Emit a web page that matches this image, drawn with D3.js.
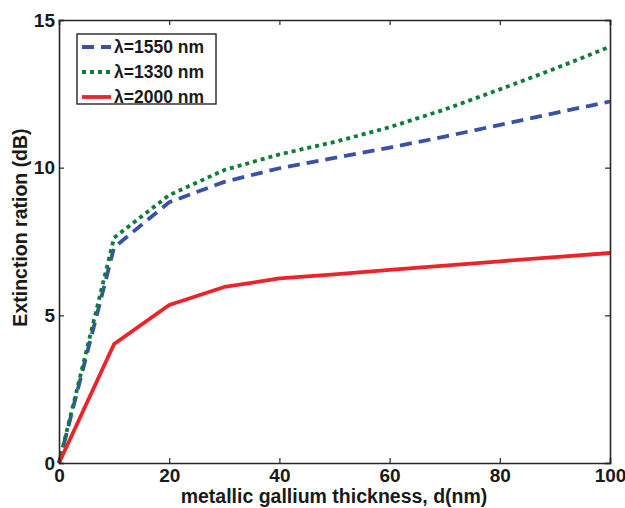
<!DOCTYPE html>
<html>
<head>
<meta charset="utf-8">
<script src="https://cdn.jsdelivr.net/npm/d3@7/dist/d3.min.js"></script>
<style>
  html, body { margin: 0; padding: 0; background: #fff; }
  svg { display: block; font-family: "Liberation Sans", Arial, sans-serif; }
</style>
</head>
<body>
<svg id="chart" width="625" height="508"></svg>
<script>
// ---- data ----
const thickness = [0, 10, 20, 30, 40, 50, 60, 70, 80, 90, 100];
const er1550 = [0, 7.30, 8.83, 9.52, 9.98, 10.33, 10.68, 11.05, 11.45, 11.85, 12.24];
const er1330 = [0, 7.63, 9.07, 9.92, 10.45, 10.87, 11.37, 11.97, 12.65, 13.35, 14.1];
const er2000 = [0, 4.03, 5.35, 5.96, 6.25, 6.39, 6.54, 6.68, 6.83, 6.97, 7.11];
const seriesNames = ["\u03bb=1550 nm", "\u03bb=1330 nm", "\u03bb=2000 nm"];
const xTicks = [0, 20, 40, 60, 80, 100];
const yTicks = [0, 5, 10, 15];

const series = [
  { name: seriesNames[0], values: er1550, color: "#3a51a6", dash: "12,7" },
  { name: seriesNames[1], values: er1330, color: "#0e7d3c", dash: "4,4" },
  { name: seriesNames[2], values: er2000, color: "#ee2229", dash: null }
];

const svg = d3.select("#chart");
const mLeft = 59, mRight = 610, mTop = 20, mBottom = 463;

const x = d3.scaleLinear().domain([0, 100]).range([mLeft, mRight]);
const y = d3.scaleLinear().domain([0, 15]).range([mBottom, mTop]);

const axisColor = "#262626";

// lines
const line = d3.line().x((d, i) => x(thickness[i])).y(d => y(d));
series.forEach(s => {
  svg.append("path")
    .datum(s.values)
    .attr("d", line)
    .attr("fill", "none")
    .attr("stroke", s.color)
    .attr("stroke-width", 3.8)
    .attr("stroke-dasharray", s.dash)
    .attr("stroke-linejoin", "round");
});

// axes (inward ticks, mirrored)
const tickLen = 5;
const gx = svg.append("g").attr("transform", `translate(0,${mBottom})`)
  .call(d3.axisBottom(x).tickValues(xTicks).tickSize(-tickLen).tickPadding(6).tickFormat(d3.format("d")));
const gxTop = svg.append("g").attr("transform", `translate(0,${mTop})`)
  .call(d3.axisTop(x).tickValues(xTicks).tickSize(-tickLen).tickFormat(""));
const gy = svg.append("g").attr("transform", `translate(${mLeft},0)`)
  .call(d3.axisLeft(y).tickValues(yTicks).tickSize(-tickLen).tickPadding(4).tickFormat(d3.format("d")));
const gyR = svg.append("g").attr("transform", `translate(${mRight},0)`)
  .call(d3.axisRight(y).tickValues(yTicks).tickSize(-tickLen).tickFormat(""));

[gx, gxTop, gy, gyR].forEach(g => {
  g.select(".domain").attr("stroke", axisColor).attr("stroke-width", 1.6);
  g.selectAll(".tick line").attr("stroke", axisColor).attr("stroke-width", 1.2);
  g.selectAll("text").attr("fill", "#1a1a1a").attr("font-size", 19).attr("font-weight", "bold")
    .attr("font-family", "Liberation Sans, Arial, sans-serif");
});

// axis titles
svg.append("text")
  .attr("x", 334)
  .attr("y", 503)
  .attr("text-anchor", "middle")
  .attr("font-size", 19.5).attr("font-weight", "bold").attr("fill", "#1a1a1a")
  .text("metallic gallium thickness, d(nm)");

svg.append("text")
  .attr("transform", `translate(27,${(mTop + mBottom) / 2 - 14}) rotate(-90)`)
  .attr("text-anchor", "middle")
  .attr("font-size", 19.5).attr("font-weight", "bold").attr("fill", "#1a1a1a")
  .text("Extinction ration (dB)");

// legend
const lg = svg.append("g");
lg.append("rect")
  .attr("x", 77).attr("y", 34).attr("width", 139).attr("height", 70)
  .attr("fill", "#fff").attr("stroke", axisColor).attr("stroke-width", 1.4);
series.forEach((s, i) => {
  const cy = 47 + i * 25;
  lg.append("line")
    .attr("x1", 82).attr("x2", 111).attr("y1", cy).attr("y2", cy)
    .attr("stroke", s.color).attr("stroke-width", 3.8)
    .attr("stroke-dasharray", s.dash);
  lg.append("text")
    .attr("x", 114).attr("y", cy).attr("dy", "0.35em")
    .attr("font-size", 17.5).attr("font-weight", "bold").attr("fill", "#1a1a1a")
    .text(s.name);
});
</script>
</body>
</html>
